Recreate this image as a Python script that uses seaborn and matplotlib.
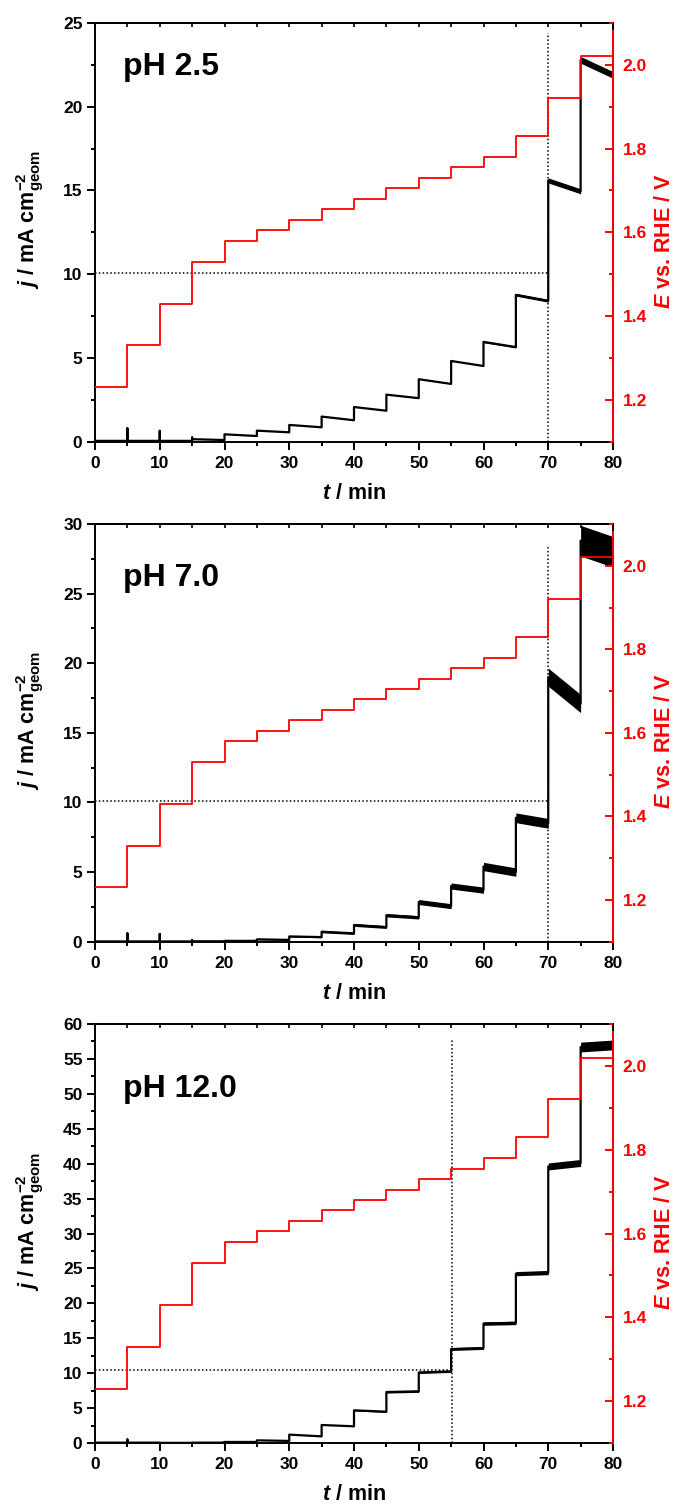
import numpy as np
import pandas as pd
import matplotlib
matplotlib.use("Agg")
import matplotlib.pyplot as plt
import seaborn as sns
from matplotlib.ticker import MultipleLocator

# ---------------- data ----------------
t_steps = [0, 5, 10, 15, 20, 25, 30, 35, 40, 45, 50, 55, 60, 65, 70, 75]
t_end = 80
E_steps = [1.23, 1.33, 1.43, 1.53, 1.58, 1.605, 1.63, 1.655, 1.68, 1.705,
           1.73, 1.755, 1.78, 1.83, 1.92, 2.02]

# pH 2.5 current density: value right after each potential step, value at step end
ph25_start = [0.05, 0.05, 0.05, 0.15, 0.44, 0.66, 1.0, 1.5, 2.07, 2.81, 3.73, 4.82, 5.96, 8.77, 15.6, 22.8]
ph25_end = [0.05, 0.05, 0.05, 0.10, 0.34, 0.56, 0.86, 1.28, 1.85, 2.6, 3.45, 4.52, 5.65, 8.41, 14.95, 21.9]
ph25_spike = [0, 0.8, 0.65, 0.25, 0, 0, 0, 0, 0, 0, 0, 0, 0, 0, 0, 0]
ph25_noise = [0, 0, 0, 0, 0, 0, 0, 0, 0, 0, 0, 0, 0.05, 0.08, 0.15, 0.2]

# pH 7.0
ph70_start = [0.02, 0.02, 0.02, 0.03, 0.06, 0.17, 0.38, 0.72, 1.2, 1.9, 2.85, 4.0, 5.4, 8.9, 19.0, 28.8]
ph70_end = [0.02, 0.02, 0.02, 0.03, 0.06, 0.13, 0.33, 0.6, 1.05, 1.75, 2.55, 3.7, 5.0, 8.5, 17.1, 28.0]
ph70_spike = [0, 0.6, 0.55, 0.1, 0, 0, 0, 0, 0, 0, 0, 0, 0, 0, 0, 0]
ph70_noise = [0, 0, 0, 0, 0, 0.03, 0.05, 0.08, 0.1, 0.12, 0.18, 0.22, 0.3, 0.35, 0.65, 1.1]

# pH 12.0
ph12_start = [0.05, 0.05, 0.02, 0.05, 0.15, 0.38, 1.2, 2.58, 4.68, 7.3, 10.1, 13.45, 17.1, 24.25, 39.6, 56.7]
ph12_end = [0.05, 0.05, 0.02, 0.05, 0.15, 0.3, 0.95, 2.39, 4.48, 7.4, 10.26, 13.6, 17.2, 24.4, 40.1, 57.0]
ph12_spike = [0, 0.5, 0, 0, 0, 0, 0, 0, 0, 0, 0, 0, 0, 0, 0, 0]
ph12_noise = [0, 0, 0, 0, 0, 0, 0, 0, 0.1, 0.15, 0.15, 0.2, 0.25, 0.3, 0.5, 0.7]

panel_labels = ["pH 2.5", "pH 7.0", "pH 12.0"]
j_max = [25, 30, 60]
j_major = [5, 5, 5]
ref_j = [10.1, 10.1, 10.5]          # horizontal dotted line level
ref_t = [70, 70, 55.2]              # vertical dotted line position
ref_top = [24.4, 28.5, 57.8]        # top of vertical dotted line
label_y = [0.876, 0.851, 0.826]     # pH label baseline (axes fraction)

# ---------------- style ----------------
sns.set_style("ticks")
plt.rcParams["font.family"] = ["Liberation Sans", "DejaVu Sans"]
plt.rcParams["font.weight"] = "bold"
plt.rcParams["axes.labelweight"] = "bold"
plt.rcParams["text.color"] = "black"
plt.rcParams["axes.labelcolor"] = "black"
plt.rcParams["xtick.color"] = "black"
plt.rcParams["ytick.color"] = "black"
plt.rcParams["axes.edgecolor"] = "black"
plt.rcParams["mathtext.fontset"] = "custom"
plt.rcParams["mathtext.rm"] = "Liberation Sans:bold"
plt.rcParams["mathtext.bf"] = "Liberation Sans:bold"
plt.rcParams["mathtext.it"] = "Liberation Sans:bold:italic"
plt.rcParams["mathtext.default"] = "rm"

RED = "#ff0000"
fig = plt.figure(figsize=(6.77, 15.10), dpi=100)

ax_left = 95 / 677
ax_w = 518 / 677
bottoms = [1 - 441.7 / 1510, 1 - 941.7 / 1510, 1 - 1443 / 1510]
heights = [418.7 / 1510, 417.7 / 1510, 419 / 1510]


def build_trace(start, end, spike, noise):
    tt, jj, nn = [], [], []
    for k, t0 in enumerate(t_steps):
        t1 = t_steps[k + 1] if k + 1 < len(t_steps) else t_end
        if spike[k] > 0:
            tt.append(t0); jj.append(spike[k]); nn.append(0)
        tt += [t0, t1]
        jj += [start[k], end[k]]
        nn += [noise[k], noise[k]]
    return pd.DataFrame({"t": tt, "j": jj, "noise": nn})


traces = [
    build_trace(ph25_start, ph25_end, ph25_spike, ph25_noise),
    build_trace(ph70_start, ph70_end, ph70_spike, ph70_noise),
    build_trace(ph12_start, ph12_end, ph12_spike, ph12_noise),
]

E_df = pd.DataFrame({"t": t_steps + [t_end], "E": E_steps + [E_steps[-1]]})

for i in range(3):
    ax = fig.add_axes([ax_left, bottoms[i], ax_w, heights[i]])
    df = traces[i]
    # noise band
    ax.fill_between(df["t"], df["j"] - df["noise"], df["j"] + df["noise"],
                    color="black", linewidth=0, zorder=3)
    sns.lineplot(data=df, x="t", y="j", estimator=None, sort=False,
                 color="black", linewidth=1.6, ax=ax, zorder=4)
    # dotted reference lines
    ax.plot([0, ref_t[i]], [ref_j[i], ref_j[i]], color="black", linestyle=(0, (1, 1.5)),
            linewidth=1.1, zorder=2)
    ax.plot([ref_t[i], ref_t[i]], [0, ref_top[i]], color="black", linestyle=(0, (1, 1.5)),
            linewidth=1.1, zorder=2)

    ax.set_xlim(0, 80)
    ax.set_ylim(0, j_max[i])
    ax.xaxis.set_major_locator(MultipleLocator(10))
    ax.xaxis.set_minor_locator(MultipleLocator(5))
    ax.yaxis.set_major_locator(MultipleLocator(j_major[i]))
    ax.yaxis.set_minor_locator(MultipleLocator(j_major[i] / 2))
    ax.tick_params(axis="both", which="major", direction="out", length=6, width=1.4,
                   labelsize=12.5, color="black", labelcolor="black")
    ax.tick_params(axis="both", which="minor", direction="out", length=3, width=1.4)
    ax.tick_params(axis="x", which="major", pad=4)
    ax.tick_params(axis="y", which="major", pad=3)
    for s in ax.spines.values():
        s.set_linewidth(1.4)
        s.set_color("black")
        s.set_visible(True)

    # top mirror ticks pointing inward
    sec = ax.secondary_xaxis("top")
    sec.xaxis.set_major_locator(MultipleLocator(10))
    sec.xaxis.set_minor_locator(MultipleLocator(5))
    sec.tick_params(axis="x", which="both", direction="in", length=3, width=1.2,
                    labeltop=False, color="black")
    sec.spines["top"].set_linewidth(1.4)
    sec.spines["top"].set_color("black")

    ax.set_xlabel(r"$\mathit{t}$ / min", fontsize=15.5, color="black")
    ax.set_ylabel(r"$\mathit{j}$ / mA cm$^{-2}_{\mathrm{geom}}$", fontsize=15.5, color="black")
    ax.xaxis.set_label_coords(0.5, -0.098)
    ax.yaxis.set_label_coords(-0.095, 0.53)

    ax.text(0.054, label_y[i], panel_labels[i], transform=ax.transAxes,
            fontsize=23, fontweight="bold", ha="left", va="baseline", color="black")

    # right axis: potential
    ax2 = ax.twinx()
    sns.lineplot(data=E_df, x="t", y="E", estimator=None, sort=False,
                 drawstyle="steps-post", color=RED, linewidth=1.3, ax=ax2)
    ax2.set_ylim(1.1, 2.1)
    ax2.set_xlim(0, 80)
    ax2.yaxis.set_minor_locator(MultipleLocator(0.1))
    ax2.set_yticks([1.2, 1.4, 1.6, 1.8, 2.0])
    ax2.set_yticklabels(["1.2", "1.4", "1.6", "1.8", "2.0"])
    ax2.tick_params(axis="y", which="major", direction="in", length=6, width=1.4,
                    colors=RED, labelsize=12.5, pad=7)
    ax2.tick_params(axis="y", which="minor", direction="in", length=3, width=1.4,
                    colors=RED)
    for name in ["top", "bottom", "left"]:
        ax2.spines[name].set_visible(False)
    ax2.spines["right"].set_color(RED)
    ax2.spines["right"].set_linewidth(1.4)
    ax2.spines["right"].set_bounds(1.1, 2.08)
    ax2.set_ylabel(r"$\mathit{E}$ vs. RHE / V", fontsize=15.5, color=RED)
    ax2.yaxis.set_label_coords(1.08, 0.48)
    ax2.set_xlabel("")

fig.savefig("out.png", dpi=100)
